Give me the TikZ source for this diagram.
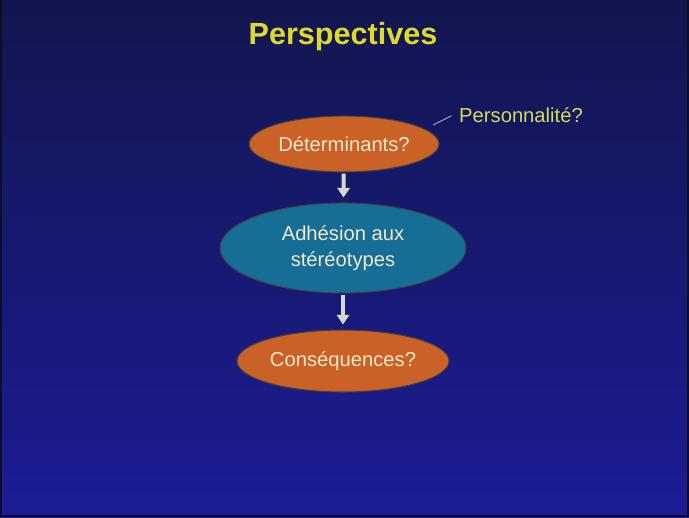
\documentclass[tikz,border=0pt]{standalone}
\usepackage{fontspec}
\setmainfont{Liberation Sans}
\usetikzlibrary{shapes.geometric,arrows.meta}
\definecolor{bgtop}{RGB}{18,22,78}
\definecolor{bgbot}{RGB}{28,28,150}
\definecolor{bgedge}{RGB}{12,14,40}
\definecolor{slorange}{RGB}{202,97,38}
\definecolor{slteal}{RGB}{22,110,150}
\definecolor{slcream}{RGB}{240,232,205}
\definecolor{slyellow}{RGB}{222,218,40}
\definecolor{slpale}{RGB}{212,218,88}
\definecolor{slgray}{RGB}{215,215,215}

\begin{document}
\begin{tikzpicture}[
  blob/.style={ellipse,draw=black!75,line width=0.6pt,inner sep=0pt,
    text=slcream,align=center,font=\fontsize{11.5}{14.8}\selectfont},
  flow/.style={slgray,line width=2.3pt,-{Triangle[width=7pt,length=5.5pt]},
    shorten <=0.02cm,shorten >=0.1cm}]
  \useasboundingbox (0,0) rectangle (13.78,-10.34);
  \fill[top color=bgtop,bottom color=bgbot] (0,0) rectangle (13.78,-10.34);
  \draw[bgedge,line width=0.05cm] (0.025,0.1) -- (0.025,-10.315) -- (13.755,-10.315) -- (13.755,0.1);
  \node[slyellow,font=\fontsize{17.4}{20}\selectfont\bfseries] (title) at (6.86,-0.74) {Perspectives};
  \node[blob,fill=slorange,minimum width=3.8cm,minimum height=1.12cm] (det) at (6.88,-2.88) {Déterminants?};
  \node[blob,fill=slteal,minimum width=4.92cm,minimum height=1.8cm] (adh) at (6.86,-4.96) {Adhésion aux\\ stéréotypes};
  \node[blob,fill=slorange,minimum width=4.24cm,minimum height=1.24cm] (cons) at (6.86,-7.22) {Conséquences?};
  \node[slpale,font=\fontsize{11.5}{14}\selectfont] (pers) at (10.42,-2.30) {Personnalité?};
  \coordinate (tick) at (8.66,-2.5);
  \draw[gray!70,line width=0.6pt,shorten >=1pt] (tick) -- (pers.west);
  \draw[flow] (det) -- (adh);
  \draw[flow] (adh) -- (cons);
\end{tikzpicture}
\end{document}
